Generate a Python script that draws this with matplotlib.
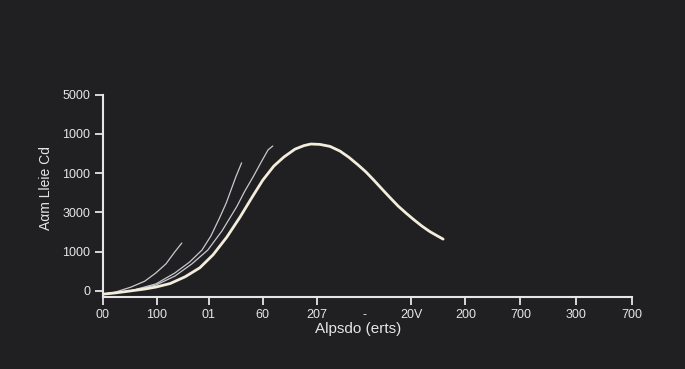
import numpy as np
import matplotlib.pyplot as plt

#   Tick positions (axis units) and their labels
x_ticks = [0, 1.02, 2.0, 3.02, 4.04, 4.95, 5.83, 6.85, 7.89, 8.95, 10.0]
x_labels = ['00', '100', '01', '60', '207', '-', '20V', '200', '700', '300', '700']
y_ticks = [0, 1, 2, 3, 4, 5]
y_labels = ['0', '1000', '3000', '1000', '1000', '5000']

#   Main curve
main_x = [0.00, 0.23, 0.51, 0.79, 1.00, 1.27, 1.55, 1.83, 2.08, 2.34, 2.59, 2.82,
          3.02, 3.23, 3.42, 3.63, 3.80, 3.93, 4.10, 4.29, 4.48, 4.65, 4.82, 4.97,
          5.12, 5.27, 5.43, 5.58, 5.73, 5.88, 6.03, 6.18, 6.31, 6.43]
main_y = [-0.08, -0.05, 0.00, 0.05, 0.10, 0.19, 0.36, 0.59, 0.92, 1.37, 1.88, 2.39,
          2.82, 3.18, 3.41, 3.61, 3.70, 3.74, 3.73, 3.68, 3.56, 3.40, 3.21, 3.03,
          2.82, 2.60, 2.37, 2.16, 1.98, 1.81, 1.65, 1.51, 1.41, 1.32]

#   Thin curves
t1_x = [0.00, 0.23, 0.53, 0.79, 1.00, 1.19, 1.36, 1.49]
t1_y = [-0.08, -0.03, 0.10, 0.25, 0.46, 0.69, 1.00, 1.22]

t2_x = [0.00, 0.51, 1.00, 1.36, 1.64, 1.87, 2.04, 2.21, 2.33, 2.42, 2.51, 2.62]
t2_y = [-0.08, 0.00, 0.18, 0.46, 0.74, 1.04, 1.40, 1.88, 2.24, 2.57, 2.90, 3.26]

t3_x = [0.00, 0.51, 1.00, 1.36, 1.68, 1.98, 2.25, 2.53, 2.68, 2.84, 2.99, 3.12, 3.21]
t3_y = [-0.08, 0.00, 0.15, 0.38, 0.69, 1.04, 1.53, 2.15, 2.54, 2.91, 3.28, 3.59, 3.69]

bg = '#201f22'
fg = '#e6e6e6'

fig = plt.figure(figsize=(6.85, 3.69), dpi=100, facecolor=bg)
ax = fig.add_axes([103/685, 72/369, 529/685, 202.5/369], facecolor=bg)

#   Draw the thin ones first, the main one on top
for xs, ys in [(t1_x, t1_y), (t2_x, t2_y), (t3_x, t3_y)]:
    ax.plot(xs, ys, color='#c9c9cd', lw=0.9, solid_capstyle='round',
            solid_joinstyle='round')
ax.plot(main_x, main_y, color='#f3eddc', lw=2.0, solid_capstyle='round',
        solid_joinstyle='round')

ax.set_xlim(0, 10)
ax.set_ylim(-0.153, 5.0)

ax.set_xticks(x_ticks)
ax.set_xticklabels(x_labels)
ax.set_yticks(y_ticks)
ax.set_yticklabels(y_labels)

for s in ['top', 'right']:
    ax.spines[s].set_visible(False)
for s in ['left', 'bottom']:
    ax.spines[s].set_color(fg)
    ax.spines[s].set_linewidth(1.5)

ax.tick_params(colors=fg, length=6, width=1.3, labelsize=9, pad=3)
for lab in ax.get_xticklabels() + ax.get_yticklabels():
    lab.set_family('Liberation Sans')
#   no tick mark under the dash label
ax.xaxis.get_major_ticks()[5].tick1line.set_visible(False)

ax.set_xlabel('Alpsdo (erts)', color=fg, fontsize=11, family='Liberation Sans')
ax.xaxis.set_label_coords(0.482, -0.125)
ax.set_ylabel('Aαm Lleie Cd', color=fg, fontsize=10, family='Liberation Sans',
              fontstretch='condensed')
ax.yaxis.set_label_coords(-0.095, 0.54)

fig.savefig('out.png', dpi=100, facecolor=bg)
